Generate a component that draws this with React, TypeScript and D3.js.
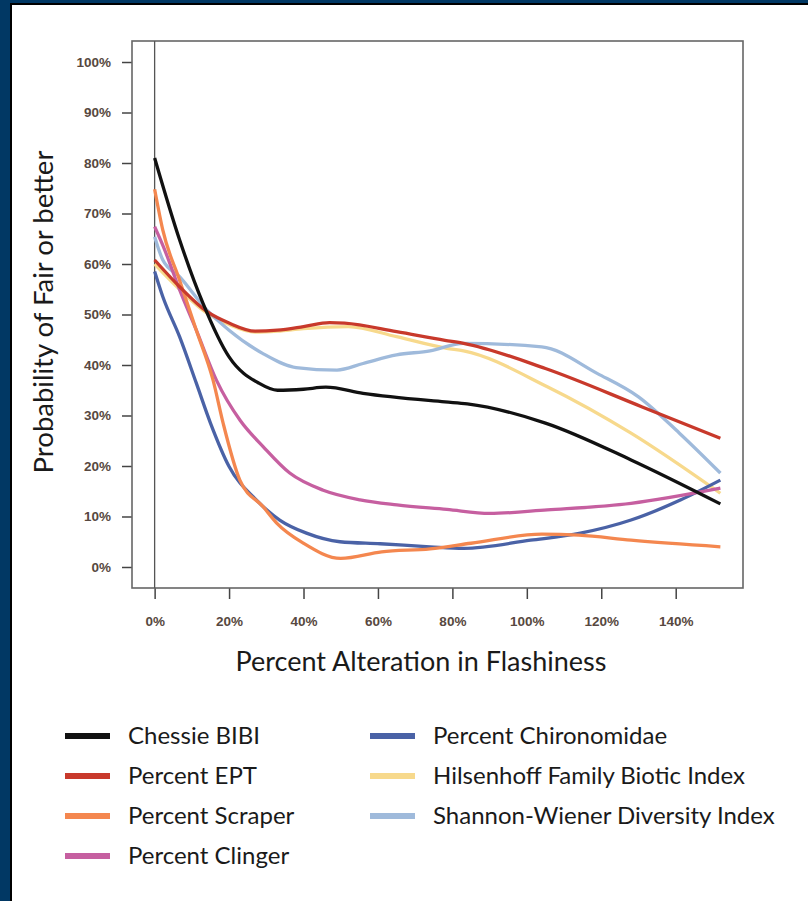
import React, { useEffect, useRef } from 'react';
import * as d3 from 'd3';

// x = alteration in flashiness (fraction), y = probability of fair or better
const chessieBibi = [[0, 0.81], [0.067, 0.648], [0.13, 0.522], [0.2, 0.416], [0.28, 0.364], [0.33, 0.35], [0.4, 0.352], [0.46, 0.356], [0.56, 0.344], [0.78, 0.327], [0.84, 0.323], [1.05, 0.285], [1.28, 0.212], [1.52, 0.125]];
const percentEpt = [[0, 0.608], [0.067, 0.555], [0.14, 0.506], [0.2, 0.483], [0.27, 0.467], [0.33, 0.469], [0.4, 0.476], [0.47, 0.484], [0.51, 0.483], [0.65, 0.466], [0.78, 0.449], [0.83, 0.443], [1.05, 0.393], [1.31, 0.317], [1.52, 0.255]];
const percentScraper = [[0, 0.748], [0.022, 0.667], [0.067, 0.568], [0.112, 0.469], [0.157, 0.37], [0.184, 0.285], [0.229, 0.172], [0.292, 0.119], [0.328, 0.087], [0.4, 0.047], [0.5, 0.017], [0.61, 0.03], [0.74, 0.036], [0.85, 0.047], [1.04, 0.065], [1.14, 0.063], [1.28, 0.053], [1.52, 0.04]];
const percentClinger = [[0, 0.674], [0.027, 0.628], [0.067, 0.549], [0.112, 0.469], [0.166, 0.37], [0.23, 0.29], [0.292, 0.238], [0.363, 0.186], [0.453, 0.152], [0.552, 0.133], [0.651, 0.123], [0.785, 0.114], [0.9, 0.106], [1.055, 0.113], [1.28, 0.126], [1.52, 0.156]];
const percentChironomidae = [[0, 0.585], [0.022, 0.535], [0.067, 0.456], [0.112, 0.364], [0.15, 0.285], [0.2, 0.199], [0.273, 0.133], [0.336, 0.093], [0.408, 0.067], [0.498, 0.05], [0.606, 0.046], [0.74, 0.04], [0.83, 0.037], [1.01, 0.053], [1.144, 0.067], [1.28, 0.093], [1.414, 0.133], [1.52, 0.172]];
const hilsenhoff = [[0, 0.6], [0.067, 0.55], [0.14, 0.503], [0.2, 0.48], [0.27, 0.465], [0.33, 0.467], [0.4, 0.472], [0.52, 0.476], [0.65, 0.456], [0.785, 0.433], [0.83, 0.428], [1.055, 0.357], [1.28, 0.265], [1.52, 0.146]];
const shannonWiener = [[0, 0.654], [0.022, 0.608], [0.067, 0.575], [0.14, 0.509], [0.2, 0.469], [0.29, 0.423], [0.38, 0.395], [0.49, 0.39], [0.56, 0.403], [0.65, 0.42], [0.74, 0.428], [0.83, 0.443], [1.04, 0.436], [1.19, 0.383], [1.3, 0.337], [1.41, 0.265], [1.52, 0.186]];

const seriesNames = ['Chessie BIBI', 'Percent EPT', 'Percent Scraper', 'Percent Clinger', 'Percent Chironomidae', 'Hilsenhoff Family Biotic Index', 'Shannon-Wiener Diversity Index'];
const seriesColors = ['#111111', '#c8392b', '#f4874f', '#c65fa0', '#4a62a6', '#f7d98c', '#9fbadb'];
const seriesData = [chessieBibi, percentEpt, percentScraper, percentClinger, percentChironomidae, hilsenhoff, shannonWiener];
const drawOrder = [5, 6, 4, 3, 2, 1, 0];

const xTicks = [0, 0.2, 0.4, 0.6, 0.8, 1.0, 1.2, 1.4];
const yTicks = [0, 0.1, 0.2, 0.3, 0.4, 0.5, 0.6, 0.7, 0.8, 0.9, 1.0];

const App = () => {
  const ref = useRef(null);

  useEffect(() => {
    const svg = d3.select(ref.current);
    svg.selectAll('*').remove();

    const W = 808, H = 901;
    const box = { left: 132, right: 743, top: 41, bottom: 588 };
    const font = 'Lato, "Open Sans", sans-serif';
    const tickFont = '"Liberation Sans Narrow", Arial, "Liberation Sans", sans-serif';

    // frame
    svg.append('rect').attr('width', W).attr('height', H).attr('fill', '#fff');
    svg.append('rect').attr('x', 0).attr('y', 0).attr('width', 10).attr('height', H).attr('fill', '#013864');
    svg.append('rect').attr('x', 0).attr('y', 0).attr('width', W).attr('height', 3).attr('fill', '#013864');
    svg.append('line').attr('x1', 11).attr('x2', 11).attr('y1', 4).attr('y2', H).attr('stroke', '#000').attr('stroke-width', 2);
    svg.append('line').attr('x1', 10).attr('x2', W).attr('y1', 4).attr('y2', 4).attr('stroke', '#000').attr('stroke-width', 2);

    const x = d3.scaleLinear().domain([-0.0608, 1.5808]).range([box.left, box.right]);
    const y = d3.scaleLinear().domain([-0.0416, 1.0416]).range([box.bottom, box.top]);

    // axes
    const yAxis = svg.append('g')
      .attr('transform', `translate(${box.left},0)`)
      .call(d3.axisLeft(y).tickValues(yTicks).tickSize(10).tickPadding(11).tickFormat(d3.format('.0%')));
    yAxis.select('.domain').remove();
    yAxis.selectAll('line').attr('stroke', '#444').attr('stroke-width', 1.5);
    yAxis.selectAll('text').attr('font-family', tickFont).attr('font-size', 13.5)
      .attr('font-weight', 'bold').attr('fill', '#574840');

    const xAxis = svg.append('g')
      .attr('transform', `translate(0,${box.bottom})`)
      .call(d3.axisBottom(x).tickValues(xTicks).tickSize(11).tickPadding(17).tickFormat(d3.format('.0%')));
    xAxis.select('.domain').remove();
    xAxis.selectAll('line').attr('stroke', '#444').attr('stroke-width', 1.5);
    xAxis.selectAll('text').attr('font-family', tickFont).attr('font-size', 13.5)
      .attr('font-weight', 'bold').attr('fill', '#574840');

    // box and reference line at 0
    svg.append('rect')
      .attr('x', box.left).attr('y', box.top)
      .attr('width', box.right - box.left).attr('height', box.bottom - box.top)
      .attr('fill', 'none').attr('stroke', '#666').attr('stroke-width', 1.6);
    svg.append('line')
      .attr('x1', x(0)).attr('x2', x(0)).attr('y1', box.top).attr('y2', box.bottom)
      .attr('stroke', '#555').attr('stroke-width', 1.3);

    const line = d3.line().x(d => x(d[0])).y(d => y(d[1])).curve(d3.curveMonotoneX);
    svg.append('g')
      .selectAll('path')
      .data(drawOrder)
      .join('path')
        .attr('d', i => line(seriesData[i]))
        .attr('fill', 'none')
        .attr('stroke', i => seriesColors[i])
        .attr('stroke-width', 3.3)
        .attr('stroke-linejoin', 'round');

    // titles
    svg.append('text')
      .attr('x', 421).attr('y', 671)
      .attr('text-anchor', 'middle')
      .attr('font-family', font).attr('font-size', 27).attr('fill', '#1a1a1a')
      .text('Percent Alteration in Flashiness');
    svg.append('text')
      .attr('transform', 'translate(53,312) rotate(-90)')
      .attr('text-anchor', 'middle')
      .attr('font-family', font).attr('font-size', 27.5).attr('fill', '#1a1a1a')
      .text('Probability of Fair or better');

    // legend
    const legendPos = seriesNames.map((n, i) => i < 4
      ? { sx: 65, tx: 128, cy: 736 + i * 40 }
      : { sx: 370, tx: 433, cy: 736 + (i - 4) * 40 });
    const legend = svg.append('g');
    legend.selectAll('rect')
      .data(seriesNames)
      .join('rect')
        .attr('x', (d, i) => legendPos[i].sx)
        .attr('y', (d, i) => legendPos[i].cy - 3)
        .attr('width', 45)
        .attr('height', 6)
        .attr('fill', (d, i) => seriesColors[i]);
    legend.selectAll('text')
      .data(seriesNames)
      .join('text')
        .attr('x', (d, i) => legendPos[i].tx)
        .attr('y', (d, i) => legendPos[i].cy)
        .attr('dy', '0.35em')
        .attr('font-family', font).attr('font-size', 24).attr('fill', '#1a1a1a')
        .text(d => d);
  }, []);

  return (
    <svg ref={ref} width={808} height={901} style={{ position: 'absolute', left: 0, top: 0 }}></svg>
  );
};

export default App;
